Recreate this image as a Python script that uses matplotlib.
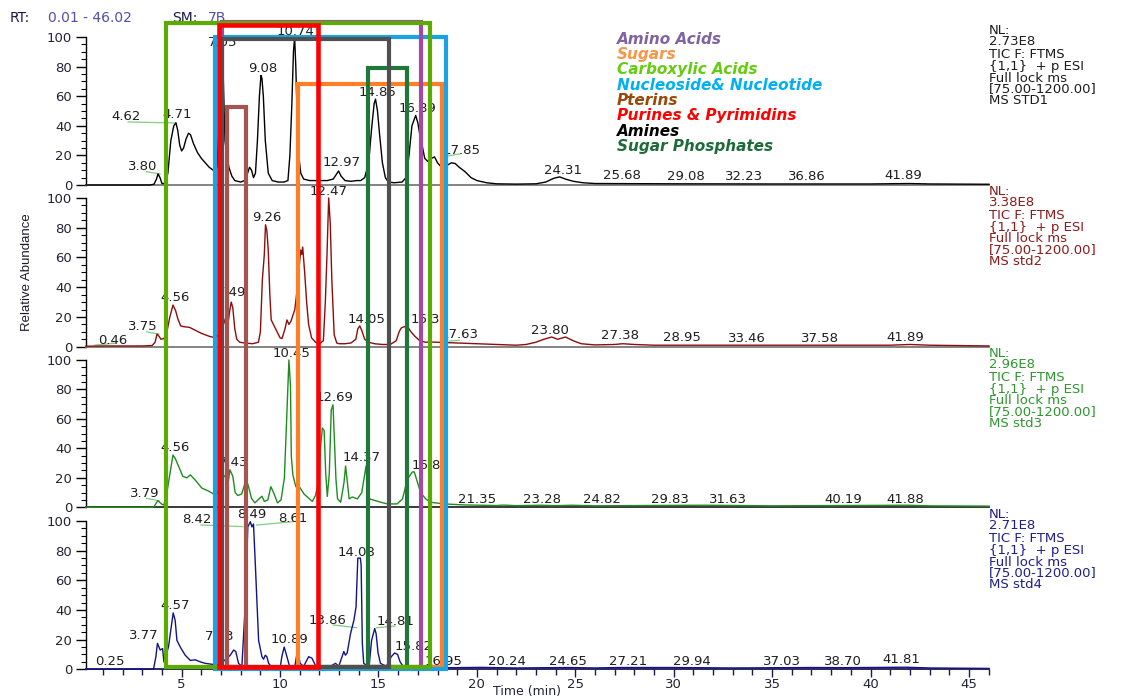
import matplotlib
matplotlib.use("Agg")
import matplotlib.pyplot as plt
from matplotlib.patches import Rectangle
from matplotlib.transforms import blended_transform_factory
from matplotlib.ticker import MultipleLocator, FixedLocator

plt.rcParams['font.family'] = ['DejaVu Sans']

# ---------------- data ----------------
time_range = (0.14, 46.02)

std1_time = [0.14, 3.4, 3.6, 3.72, 3.80, 3.9, 4.0, 4.15, 4.3, 4.45, 4.6, 4.71, 4.8, 4.9, 5.0, 5.1, 5.22, 5.35, 5.45, 5.6,
             5.8, 6.0, 6.2, 6.4, 6.6, 6.8, 6.9, 6.98, 7.05, 7.12, 7.2, 7.3, 7.4, 7.55, 7.7, 8.0, 8.2, 8.35, 8.45, 8.55,
             8.65, 8.75, 8.85, 8.95, 9.03, 9.08, 9.15, 9.25, 9.4, 9.6, 9.9, 10.2, 10.4, 10.5, 10.6, 10.68, 10.74, 10.8,
             10.88, 10.95, 11.05, 11.2, 11.5, 12.0, 12.4, 12.7, 12.85, 12.97, 13.1, 13.3, 13.6, 13.9, 14.1, 14.3, 14.5,
             14.65, 14.78, 14.85, 14.95, 15.05, 15.2, 15.35, 15.5, 15.8, 16.2, 16.4, 16.55, 16.7, 16.89, 17.0, 17.1,
             17.2, 17.35, 17.5, 17.7, 17.85, 18.0, 18.2, 18.45, 18.7, 18.9, 19.1, 19.4, 19.7, 20.0, 20.5, 21.0, 22.0,
             23.0, 23.5, 23.9, 24.2, 24.5, 24.9, 25.4, 26.0, 30.0, 35.0, 40.0, 42.0, 43.0, 46.02]
std1_abund = [0, 0, 0.6, 4, 7.5, 5, 1, 1, 8, 30, 40, 42, 37, 27, 23, 25, 31, 35, 34, 28,
              22, 18, 15, 12, 10, 12, 40, 85, 96, 70, 30, 20, 12, 6, 3, 2, 3, 8, 12, 10,
              5, 8, 30, 60, 74, 72, 60, 30, 8, 3, 2, 2, 3, 20, 55, 90, 100, 80,
              40, 20, 8, 4, 3, 3, 3, 4, 7, 9.5, 6, 3, 2.5, 3, 3, 5, 15,
              38, 55, 58, 50, 35, 15, 5, 2, 1.5, 2, 5, 20, 40, 47, 42, 34,
              28, 18, 16, 18, 19, 15, 12, 13, 15, 14.5, 12, 9, 5, 3, 1.5, 0.8, 0.6,
              0.8, 2, 4.5, 5.5, 4, 2.5, 1.5, 1, 0.8, 0.7, 0.7, 1, 0.7, 0.5]

std2_time = [0.14, 1.0, 2.0, 3.0, 3.5, 3.65, 3.75, 3.85, 3.95, 4.1, 4.25, 4.4, 4.56, 4.7, 4.8, 4.95, 5.1, 5.4, 5.7, 6.0,
             6.4, 6.7, 6.9, 7.1, 7.25, 7.35, 7.45, 7.52, 7.6, 7.7, 7.8, 7.95, 8.2, 8.6, 8.9, 9.0, 9.1, 9.2, 9.26, 9.33,
             9.4, 9.48, 9.55, 9.7, 9.85, 10.0, 10.1, 10.25, 10.35, 10.45, 10.55, 10.75, 10.88, 10.98, 11.05, 11.1,
             11.15, 11.25, 11.35, 11.45, 11.6, 11.8, 12.0, 12.2, 12.3, 12.38, 12.47, 12.55, 12.63, 12.75, 12.88, 13.0,
             13.3, 13.6, 13.85, 13.95, 14.05, 14.15, 14.3, 14.5, 14.8, 15.2, 15.6, 15.9, 16.05, 16.15, 16.31, 16.5,
             16.65, 16.85, 17.1, 17.4, 17.63, 18.0, 19.0, 20.0, 21.0, 22.0, 22.5, 23.0, 23.4, 23.8, 24.1, 24.5, 24.9,
             25.3, 26.0, 27.0, 27.4, 28.0, 29.0, 35.0, 41.0, 42.0, 43.0, 46.02]
std2_abund = [0.3, 0.5, 0.5, 0.5, 0.8, 3, 8.5, 7, 5, 5.5, 10, 20, 28, 24, 19, 14, 13.5, 13, 11, 9,
              7, 6, 8, 14, 20, 15, 25, 30, 26, 12, 5, 3, 2.5, 2, 3, 10, 45, 62, 82, 78,
              65, 35, 18, 14, 10, 6, 5.5, 12, 18, 15, 17, 25, 40, 55, 65, 62,
              67, 50, 30, 15, 6, 3, 2, 4, 30, 60, 100, 83, 45, 8, 2.5, 2,
              2, 2.5, 5, 12, 14, 11, 5, 3, 2, 1.5, 1.5, 4, 10, 12.5, 13.5, 13,
              10, 7, 4, 3, 3.2, 3, 2.5, 2, 1.5, 1, 1.5, 3, 5, 6.5, 5, 6.5, 4,
              2, 1.2, 1.5, 2, 1.5, 1, 1, 1, 1.5, 1, 0.5]

std3_time = [0.14, 3.57, 3.79, 4.0, 4.1, 4.25, 4.42, 4.56, 4.68, 4.84, 5.06, 5.26, 5.44, 5.69, 6.03, 6.37, 6.62, 6.85,
             7.1, 7.3, 7.38, 7.45, 7.6, 7.72, 7.85, 8.05, 8.28, 8.4, 8.55, 8.72, 8.95, 9.08, 9.2, 9.38, 9.53, 9.67,
             9.87, 10.05, 10.22, 10.33, 10.45, 10.53, 10.57, 10.65, 10.8, 10.98, 11.22, 11.47, 11.64, 11.8, 11.98,
             12.06, 12.15, 12.24, 12.32, 12.4, 12.5, 12.6, 12.69, 12.76, 12.84, 12.92, 13.08, 13.25, 13.33, 13.42,
             13.51, 13.67, 13.93, 14.15, 14.37, 14.45, 14.55, 14.8, 15.1, 15.45, 15.95, 16.22, 16.47, 16.72, 16.82,
             16.98, 17.14, 17.4, 17.65, 18.35, 19.35, 21.0, 21.35, 22.0, 23.28, 24.0, 24.82, 26.0, 29.83, 31.63,
             35.0, 40.19, 41.88, 43.0, 46.02]
std3_abund = [0, 0, 4.5, 2, 1.6, 10, 24, 35.5, 33, 28, 21, 20, 22, 18.5, 13, 11, 9, 10,
              20, 23, 18, 25.5, 21, 10, 8, 9, 19, 14, 6, 3, 6, 7.5, 4, 5, 14, 10,
              3, 5, 20, 58, 100, 82, 35, 22, 14, 14, 9, 6, 4, 8, 19,
              41.5, 53.8, 52, 23, 7.4, 22.5, 66, 69.6, 46, 19, 5.7, 3.4, 17, 28, 17,
              5.7, 7, 5.7, 10, 28, 12, 5.7, 4.7, 3.5, 2.3, 2.3, 5.7, 19, 24, 24,
              17, 10, 5.7, 3.4, 2.3, 1.6, 1.2, 1.5, 1.1, 1.4, 1.1, 1.4, 1.0, 1.3, 1.4,
              1.0, 1.3, 1.4, 1.0, 0.8]

std4_time = [0.14, 3.57, 3.69, 3.77, 3.91, 4.03, 4.1, 4.33, 4.47, 4.57, 4.67, 4.76, 4.93, 5.18, 5.44, 5.69, 5.95,
             6.2, 6.53, 6.9, 7.3, 7.47, 7.64, 7.75, 7.89, 8.06, 8.26, 8.36, 8.49, 8.57, 8.65, 8.74, 8.82, 8.91,
             9.08, 9.16, 9.25, 9.33, 9.42, 9.58, 10.01, 10.09, 10.21, 10.35, 10.47, 10.75, 10.89, 11.02, 11.2,
             11.45, 11.62, 11.8, 12.2, 12.55, 12.82, 12.98, 13.24, 13.32, 13.41, 13.58, 13.75, 13.86, 13.95, 14.08,
             14.12, 14.18, 14.25, 14.52, 14.65, 14.81, 14.88, 14.98, 15.1, 15.4, 15.65, 15.82, 15.97, 16.1, 16.28,
             16.95, 18.0, 20.24, 22.0, 24.65, 26.0, 27.21, 29.94, 33.0, 37.03, 38.7, 41.81, 43.0, 46.02]
std4_abund = [0, 0, 8.5, 17.5, 13, 14, 5, 15, 28.5, 38, 33, 19.5, 15, 9.5, 6, 6.4, 5,
              4, 3.4, 3, 7.4, 9.5, 13, 12, 4, 2, 50, 96, 99.5, 96, 98, 72, 47, 19.5,
              8.5, 6.8, 9.5, 8.5, 4, 1.5, 1.5, 8.5, 15, 8.5, 2.5, 2, 13, 4, 2,
              8.5, 7.5, 2.5, 2, 2, 4, 2, 12, 9.5, 11, 24, 33, 42, 75, 75,
              70, 17.5, 4, 1.5, 19.5, 27.5, 24, 11, 4, 2, 8.5, 11, 10, 5, 1.5,
              1.2, 1.0, 1.3, 0.9, 1.2, 0.9, 1.2, 1.2, 0.9, 1.2, 1.1, 1.4, 0.9, 0.6]

# peak labels: (text, time, abundance) per panel
std1_labels = [("3.80", 3.03, 12.8), ("4.62", 2.17, 46.0), ("4.71", 4.76, 47.3), ("7.05", 7.10, 96.0),
               ("9.08", 9.13, 78.4), ("10.74", 10.76, 103.4), ("12.97", 13.14, 14.9), ("14.85", 14.97, 62.2),
               ("16.89", 16.96, 52.0), ("17.85", 19.24, 23.6), ("24.31", 24.36, 9.7), ("25.68", 27.36, 6.3),
               ("29.08", 30.61, 5.6), ("32.23", 33.57, 5.6), ("36.86", 36.76, 5.6), ("41.89", 41.65, 6.3)]
std2_labels = [("0.46", 1.51, 4.5), ("3.75", 3.05, 13.4), ("4.56", 4.66, 33.4), ("7.49", 7.56, 36.3),
               ("9.26", 9.32, 87.2), ("12.47", 12.45, 104.2), ("14.05", 14.40, 18.6), ("16.31", 17.62, 18.0),
               ("17.63", 19.14, 7.9), ("23.80", 23.71, 10.6), ("27.38", 27.27, 7.4), ("28.95", 30.41, 5.9),
               ("33.46", 33.71, 5.2), ("37.58", 37.43, 5.2), ("41.89", 41.75, 6.5)]
std3_labels = [("3.79", 3.14, 9.5), ("4.56", 4.66, 40.5), ("7.43", 7.62, 30.3), ("10.45", 10.59, 104.5),
               ("12.69", 12.79, 74.7), ("14.37", 14.15, 34.0), ("16.82", 17.62, 28.7), ("21.35", 19.99, 5.4),
               ("23.28", 23.29, 5.4), ("24.82", 26.34, 5.0), ("29.83", 29.81, 5.4), ("31.63", 32.77, 5.0),
               ("40.19", 38.62, 5.0), ("41.88", 41.75, 5.4)]
std4_labels = [("0.25", 1.36, 5.1), ("3.77", 3.08, 22.5), ("4.57", 4.66, 42.7), ("7.73", 6.92, 22.0),
               ("8.42", 5.76, 101.1), ("8.49", 8.56, 104.7), ("8.61", 10.67, 101.8), ("10.89", 10.50, 20.2),
               ("13.86", 12.42, 32.8), ("14.08", 13.89, 78.9), ("14.81", 15.84, 32.1), ("15.82", 16.77, 15.2),
               ("16.95", 18.29, 5.1), ("20.24", 21.51, 5.1), ("24.65", 24.64, 5.1), ("27.21", 27.69, 5.1),
               ("29.94", 30.94, 5.1), ("37.03", 35.49, 5.1), ("38.70", 38.62, 5.1), ("41.81", 41.58, 6.3)]

# green leader lines: (t0, a0, t1, a1) per panel
std1_leaders = [(2.28, 42.6, 4.72, 41.9), (3.22, 9.0, 3.90, 7.4), (18.48, 19.6, 19.14, 21.0)]
std2_leaders = [(0.59, 1.1, 1.61, 2.3), (3.22, 10.0, 3.85, 8.5), (18.6, 3.8, 19.1, 4.3)]
std3_leaders = [(3.22, 6.0, 3.85, 4.5)]
std4_leaders = [(5.98, 97.3, 8.11, 96.2), (8.81, 97.3, 10.66, 99.5), (12.69, 29.9, 13.89, 28.1),
                (14.91, 28.0, 15.84, 29.2)]

nl_values = ["2.73E8", "3.38E8", "2.96E8", "2.71E8"]
scan_names = ["MS STD1", "MS std2", "MS std3", "MS std4"]
scan_lines = ["TIC F: FTMS", "{1,1}  + p ESI", "Full lock ms", "[75.00-1200.00]"]

# compound-class boxes: (class, colour, start time, end time, top in panel-1 %, bottom in panel-4 %)
class_boxes = [
    ("Sugars", "#ff7f27", 10.90, 18.25, 68.0, 1.6),
    ("Nucleoside& Nucleotide", "#19a2e6", 6.69, 18.41, 100.2, 0.2),
    ("Amino Acids", "#a349a4", 7.05, 17.15, 110.3, 1.6),
    ("Sugar Phosphates", "#1f773a", 14.45, 16.47, 78.9, 1.6),
    ("Carboxylic Acids", "#5cab00", 4.19, 17.62, 109.7, 1.6),
    ("Amines", "#505050", 7.04, 15.55, 98.4, 1.6),
    ("Pterins", "#a5554e", 7.29, 8.27, 52.9, 1.6),
    ("Purines & Pyrimidins", "#ff0000", 6.88, 11.94, 108.1, 1.6),
]
legend_names = ["Amino Acids", "Sugars", "Carboxylic Acids", "Nucleoside& Nucleotide", "Pterins",
                "Purines & Pyrimidins", "Amines", "Sugar Phosphates"]
legend_colors = ["#8064a2", "#f79646", "#66cc11", "#00b0f0", "#984807", "#ff0000", "#000000", "#1e6b3a"]

# ---------------- figure ----------------
W, H = 1126, 699
fig = plt.figure(figsize=(W / 100, H / 100), dpi=100)

panel_px = [(185.0, 37.0), (346.7, 198.0), (507.3, 360.0), (669.3, 521.0)]
trace_colors = ["#000000", "#8b0d0d", "#1f8c1f", "#13138a"]
text_colors = ["#1c1c1c", "#8b1a1a", "#2e962e", "#1e1e8c"]
base_colors = ["#7a7a7a", "#7a7a7a", "#2a2a2a", "#1a1a50"]
times = [std1_time, std2_time, std3_time, std4_time]
abunds = [std1_abund, std2_abund, std3_abund, std4_abund]
labels = [std1_labels, std2_labels, std3_labels, std4_labels]
leaders = [std1_leaders, std2_leaders, std3_leaders, std4_leaders]

tick_color = "#222233"
axes = []
for i, (y0, y100) in enumerate(panel_px):
    ax = fig.add_axes([86 / W, 1 - y0 / H, (989 - 86) / W, (y0 - y100) / H])
    ax.set_xlim(*time_range)
    ax.set_ylim(0, 100)
    ax.patch.set_alpha(0)
    for s in ("top", "right"):
        ax.spines[s].set_visible(False)
    ax.spines["left"].set_color("black")
    ax.spines["left"].set_linewidth(1.0)
    ax.spines["bottom"].set_color(base_colors[i])
    ax.spines["bottom"].set_linewidth(1.3)
    ax.yaxis.set_major_locator(MultipleLocator(20))
    ax.yaxis.set_minor_locator(MultipleLocator(5))
    ax.tick_params(axis="y", which="major", length=7, width=1, direction="out", pad=3,
                   labelsize=9.5, labelcolor=tick_color)
    ax.tick_params(axis="y", which="minor", length=3.5, width=0.8, direction="out")
    if i < 3:
        ax.tick_params(axis="x", which="both", bottom=False, labelbottom=False)
    else:
        ax.xaxis.set_major_locator(FixedLocator([5, 10, 15, 20, 25, 30, 35, 40, 45]))
        ax.xaxis.set_minor_locator(MultipleLocator(1))
        ax.tick_params(axis="x", which="major", length=5.5, width=1, direction="out", pad=1.0,
                       labelsize=9.5, labelcolor=tick_color, color="#1a1a50")
        ax.tick_params(axis="x", which="minor", length=4, width=1, direction="out", color="#1a1a50")
    ax.plot(times[i], abunds[i], color=trace_colors[i], lw=1.0, clip_on=False, zorder=3)
    for (t0, a0, t1, a1) in leaders[i]:
        ax.plot([t0, t1], [a0, a1], color="#7fcf7f", lw=0.9, clip_on=False, zorder=2)
    for (s, t, a) in labels[i]:
        ax.text(t, a, s, ha="center", va="center", fontsize=9.5, color="#1e1e1e", zorder=4)
    # NL block
    tr = blended_transform_factory(ax.transAxes, ax.transData)
    scale = (y0 - y100) / 100.0
    block = ["NL:", nl_values[i]] + scan_lines + [scan_names[i]]
    offsets = [-6.5, 4.7, 17.5, 29.5, 41.0, 52.0, 63.5]
    for line, off in zip(block, offsets):
        ax.text(0.9995, 100 - off / scale, line, transform=tr, ha="left", va="center",
                fontsize=9.5, color=text_colors[i])
    axes.append(ax)

ax4 = axes[-1]
fig.text(527 / W, 0.5 / H, "Time (min)", fontsize=9, color=tick_color, ha="center", va="bottom")

# compound-class boxes across all panels
inv = fig.transFigure.inverted()


def fig_y(ax, val):
    return inv.transform(ax.transData.transform((time_range[0], val)))[1]


btr = blended_transform_factory(ax4.transData, fig.transFigure)
for k, (name, col, t0, t1, top, bot) in enumerate(class_boxes):
    yt = fig_y(axes[0], top)
    yb = fig_y(axes[3], bot)
    lw = 3.3 if col == "#ff0000" else 3.0
    r = Rectangle((t0, yb), t1 - t0, yt - yb, transform=btr, fill=False, ec=col, lw=lw,
                  zorder=5 + k * 0.01, clip_on=False)
    fig.add_artist(r)

# legend text
for j, (nm, c) in enumerate(zip(legend_names, legend_colors)):
    fig.text(617 / W, 1 - (39.3 + 15.3 * j) / H, nm, color=c, fontsize=11, fontweight="bold",
             fontstyle="italic", ha="left", va="center")

# header
hdr = [("RT:", 10, "#1a1a4a"), ("0.01 - 46.02", 48, "#5050a8"), ("SM:", 172, "#1a1a4a"), ("7B", 208, "#5050a8")]
for s, x, c in hdr:
    fig.text(x / W, 1 - 18.3 / H, s, color=c, fontsize=10, ha="left", va="center")

fig.text(27 / W, 1 - 272.5 / H, "Relative Abundance", rotation=90, ha="center", va="center",
         fontsize=9.5, color="#1a1a2a", family=["Liberation Sans Narrow", "Liberation Sans", "DejaVu Sans"])

fig.savefig("out.png", dpi=100)
